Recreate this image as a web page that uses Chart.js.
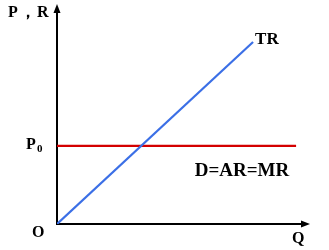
<!DOCTYPE html>
<html lang="zh">
<head>
<meta charset="UTF-8">
<title>TR and D=AR=MR</title>
<style>
  body { margin: 0; background: #fff; }
  #wrap { width: 329px; height: 250px; position: relative; }
</style>
</head>
<body>
<div id="wrap"><canvas id="chart"></canvas></div>

<script src="https://cdn.jsdelivr.net/npm/chart.js@4.4.7/dist/chart.umd.min.js"></script>
<script>
// 数据
const trQuantity = [0, 7.75];
const trRevenue = [0, 8.27];
const demandQuantity = [0, 9.45];
const demandPrice = [3.55, 3.55];
const p0Value = 3.55;

const axisMax = { x: 10, y: 10 };

const SERIF = '"Liberation Serif", "Times New Roman", serif';

// 坐标轴、箭头和文字
const economicsAxes = {
  id: 'economicsAxes',
  beforeDatasetsDraw(chart) {
    const { ctx, chartArea: a } = chart;
    ctx.save();
    ctx.strokeStyle = '#000';
    ctx.fillStyle = '#000';
    ctx.lineWidth = 2;
    // y 轴
    ctx.beginPath();
    ctx.moveTo(a.left, a.bottom + 1);
    ctx.lineTo(a.left, a.top + 6);
    ctx.stroke();
    ctx.beginPath();
    ctx.moveTo(a.left, a.top);
    ctx.lineTo(a.left - 3.5, a.top + 9);
    ctx.lineTo(a.left + 3.5, a.top + 9);
    ctx.closePath();
    ctx.fill();
    // x 轴
    ctx.beginPath();
    ctx.moveTo(a.left - 1, a.bottom);
    ctx.lineTo(a.right - 6, a.bottom);
    ctx.stroke();
    ctx.beginPath();
    ctx.moveTo(a.right, a.bottom);
    ctx.lineTo(a.right - 9, a.bottom - 3.5);
    ctx.lineTo(a.right - 9, a.bottom + 3.5);
    ctx.closePath();
    ctx.fill();
    ctx.restore();
  },
  afterDraw(chart) {
    const { ctx, chartArea: a, scales } = chart;
    const x = scales.x, y = scales.y;
    ctx.save();
    ctx.fillStyle = '#000';
    ctx.textBaseline = 'alphabetic';
    ctx.textAlign = 'left';

    ctx.font = 'bold 16px ' + SERIF;
    ctx.fillText('P', 8, 17);
    ctx.fillText('，', 20, 17);
    ctx.fillText('R', 37, 17);

    // P0
    const py = y.getPixelForValue(p0Value);
    ctx.font = 'bold 16px ' + SERIF;
    ctx.fillText('P', 26, py + 3);
    ctx.font = 'bold 11px ' + SERIF;
    ctx.fillText('0', 37, py + 6);

    ctx.font = 'bold 16px ' + SERIF;
    ctx.fillText('O', 32, a.bottom + 13);
    ctx.fillText('Q', 292, a.bottom + 19);

    // TR
    const tx = x.getPixelForValue(trQuantity[1]);
    const ty = y.getPixelForValue(trRevenue[1]);
    ctx.font = 'bold 17px ' + SERIF;
    ctx.fillText('TR', tx + 2, ty + 2);

    // D=AR=MR
    ctx.font = 'bold 19px ' + SERIF;
    ctx.textAlign = 'center';
    ctx.fillText('D=AR=MR', 242, py + 30);
    ctx.restore();
  }
};

const toPoints = (xs, ys) => xs.map((v, i) => ({ x: v, y: ys[i] }));

new Chart(document.getElementById('chart'), {
  type: 'scatter',
  data: {
    datasets: [
      {
        label: 'TR',
        data: toPoints(trQuantity, trRevenue),
        showLine: true,
        borderColor: '#3b6fe6',
        borderWidth: 2.2,
        pointRadius: 0
      },
      {
        label: 'D=AR=MR',
        data: toPoints(demandQuantity, demandPrice),
        showLine: true,
        borderColor: '#d40000',
        borderWidth: 2.2,
        pointRadius: 0
      }
    ]
  },
  options: {
    responsive: true,
    maintainAspectRatio: false,
    animation: false,
    layout: { padding: { left: 57, top: 4, right: 19, bottom: 26 } },
    plugins: {
      legend: { display: false },
      tooltip: { enabled: false }
    },
    scales: {
      x: { type: 'linear', min: 0, max: axisMax.x, display: false },
      y: { type: 'linear', min: 0, max: axisMax.y, display: false }
    }
  },
  plugins: [economicsAxes]
});
</script>
</body>
</html>
